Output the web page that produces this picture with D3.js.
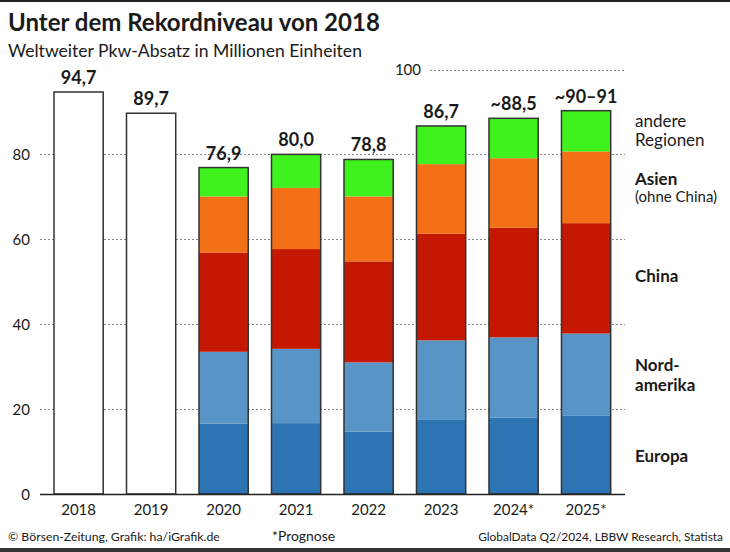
<!DOCTYPE html>
<html><head><meta charset="utf-8">
<script src="https://cdn.jsdelivr.net/npm/d3@7"></script>
<style>
body{margin:0;background:#fff;}
svg{display:block;font-family:Lato,"Open Sans",sans-serif;}
</style></head>
<body>
<script>
const years = ["2018","2019","2020","2021","2022","2023","2024*","2025*"];
const totals = [94.7, 89.7, 76.9, 80.0, 78.8, 86.7, 88.5, 90.3];
const totalLabels = ["94,7","89,7","76,9","80,0","78,8","86,7","~88,5","~90–91"];
const europa     = [null, null, 16.6, 16.7, 14.7, 17.6, 18.0, 18.4];
const nordamerika= [null, null, 16.9, 17.5, 16.3, 18.6, 18.9, 19.4];
const china      = [null, null, 23.4, 23.5, 23.8, 25.1, 25.8, 26.0];
const asien      = [null, null, 13.2, 14.4, 15.3, 16.4, 16.4, 16.9];
const andere     = [null, null,  6.8,  7.9,  8.7,  9.0,  9.4,  9.6];
const seriesNames = ["Europa","Nordamerika","China","Asien","andere"];
const seriesColors = ["#2c74b2","#5894c5","#c41800","#f47016","#3ff11d"];
const yTicks = [0,20,40,60,80,100];

const W=730,H=552;
const svg=d3.select("body").append("svg").attr("width",W).attr("height",H);

const x=d3.scaleBand().domain(years).range([54,610.7]).paddingInner(0.321).paddingOuter(0);
const y=d3.scaleLinear().domain([0,100]).range([494,69.5]);

// fit a text's font size to a target width
function fit(sel, target){
  const n=sel.node(); const s=+sel.attr("font-size"); const w=n.getComputedTextLength();
  if(w>0) sel.attr("font-size", (s*target/w).toFixed(2));
  return sel;
}

// borders
svg.append("rect").attr("x",0).attr("y",0).attr("width",W).attr("height",2).attr("fill","#222");
svg.append("rect").attr("x",0).attr("y",548).attr("width",W).attr("height",4).attr("fill","#333");

// title
fit(svg.append("text").attr("x",8).attr("y",31).attr("font-size",25).attr("font-weight",700)
  .attr("fill","#1a1a1a").text("Unter dem Rekordniveau von 2018"),372);
fit(svg.append("text").attr("x",8).attr("y",57).attr("font-size",17.5)
  .attr("fill","#1a1a1a").text("Weltweiter Pkw-Absatz in Millionen Einheiten"),354);

// gridlines
yTicks.filter(d=>d>0).forEach(t=>{
  svg.append("line").attr("x1",t===100?430:40).attr("x2",625)
    .attr("y1",Math.round(y(t))+0.5).attr("y2",Math.round(y(t))+0.5)
    .attr("stroke","#888").attr("stroke-width",1).attr("stroke-dasharray","2,2");
});
// y tick labels
yTicks.forEach(t=>{
  svg.append("text").attr("x",t===100?421:30).attr("y",y(t)+5.5)
    .attr("text-anchor","end").attr("font-size",15).attr("fill","#1a1a1a").text(t);
});

// stacked data
const rows = years.map((yr,i)=>({year:yr,Europa:europa[i],Nordamerika:nordamerika[i],China:china[i],Asien:asien[i],andere:andere[i]}));
const stacked = d3.stack().keys(seriesNames)(rows.filter(r=>r.Europa!==null));
stacked.forEach((s,si)=>{
  svg.append("g").selectAll("rect").data(s).join("rect")
    .attr("x",d=>x(d.data.year)).attr("width",x.bandwidth())
    .attr("y",d=>y(d[1])).attr("height",d=>y(d[0])-y(d[1]))
    .attr("fill",seriesColors[si]);
});
// outlines
svg.append("g").selectAll("rect").data(years).join("rect")
  .attr("x",d=>x(d)).attr("width",x.bandwidth())
  .attr("y",(d,i)=>y(totals[i])).attr("height",(d,i)=>y(0)-y(totals[i]))
  .attr("fill",(d,i)=>europa[i]===null?"#fff":"none")
  .attr("stroke","#333").attr("stroke-width",1.5);

// value labels
svg.append("g").selectAll("text").data(years).join("text")
  .attr("x",d=>x(d)+x.bandwidth()/2).attr("y",(d,i)=>y(totals[i])-8)
  .attr("text-anchor","middle").attr("font-size",18).attr("font-weight",700).attr("fill","#1a1a1a")
  .text((d,i)=>totalLabels[i]);

// x axis
svg.append("line").attr("x1",40).attr("x2",625).attr("y1",494.5).attr("y2",494.5)
  .attr("stroke","#222").attr("stroke-width",1.5);
svg.append("g").selectAll("text").data(years).join("text")
  .attr("x",d=>x(d)+x.bandwidth()/2).attr("y",515)
  .attr("text-anchor","middle").attr("font-size",15).attr("fill","#1a1a1a").text(d=>d);

// legend
const leg=[
  {t:"andere",y:127,w:400,s:17},{t:"Regionen",y:146,w:400,s:17},
  {t:"Asien",y:185,w:700,s:17},{t:"(ohne China)",y:202,w:400,s:15},
  {t:"China",y:282,w:700,s:17},
  {t:"Nord-",y:371,w:700,s:17},{t:"amerika",y:391,w:700,s:17},
  {t:"Europa",y:462,w:700,s:17}
];
svg.append("g").selectAll("text").data(leg).join("text")
  .attr("x",635).attr("y",d=>d.y).attr("font-size",d=>d.s).attr("font-weight",d=>d.w)
  .attr("fill","#1a1a1a").text(d=>d.t);

// footer
fit(svg.append("text").attr("x",8).attr("y",541).attr("font-size",13).attr("fill","#1a1a1a")
  .text("© Börsen-Zeitung, Grafik: ha/iGrafik.de"),212);
fit(svg.append("text").attr("x",272).attr("y",541).attr("font-size",13).attr("fill","#1a1a1a")
  .text("*Prognose"),63);
fit(svg.append("text").attr("x",723).attr("y",541).attr("font-size",13).attr("fill","#1a1a1a")
  .attr("text-anchor","end").text("GlobalData Q2/2024, LBBW Research, Statista"),245);
</script>
</body></html>
